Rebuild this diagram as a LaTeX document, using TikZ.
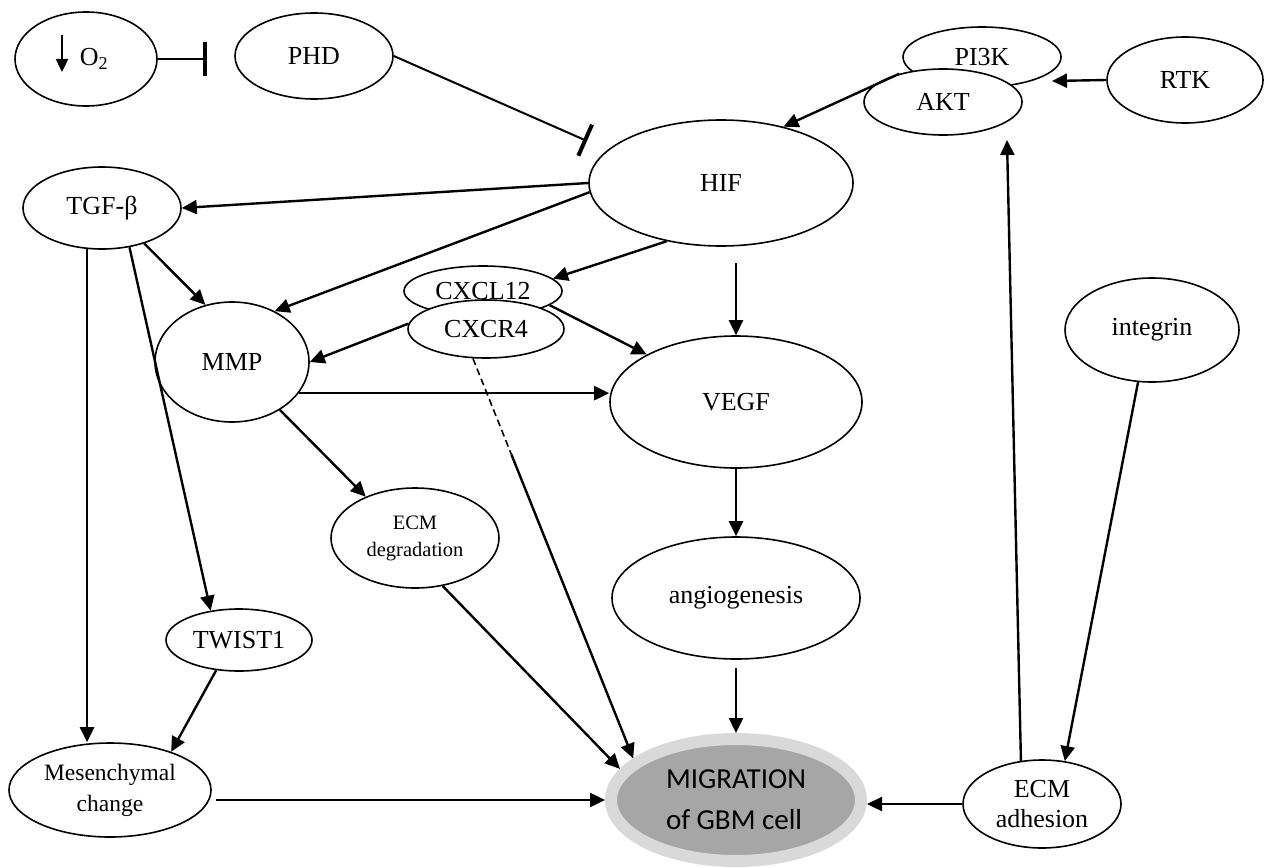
\documentclass[tikz,border=0pt]{standalone}
\usepackage{fontspec}
\setmainfont{Liberation Serif}
\newfontfamily\calibri{Carlito}
\usetikzlibrary{arrows.meta, calc, shapes.geometric}
\definecolor{migrim}{HTML}{D9D9D9}
\definecolor{migcore}{HTML}{A6A6A6}

\begin{document}
\begin{tikzpicture}[x=1pt, y=-1pt, >={Triangle[length=15pt,width=14pt]},
    bubble/.style={draw, ellipse, line width=1.6pt, inner sep=0pt, align=center, font=\fontsize{26}{30}\selectfont},
    act/.style={->, line width=2.4pt},
    inh/.style={-{Bar[width=34pt,line width=4pt]}, line width=2pt}]
  \useasboundingbox (0,0) rectangle (1265,867);

  \node[bubble, minimum width=142pt, minimum height=94pt] (o2) at (86,59) {\hspace*{16pt}O\textsubscript{2}};
  \node[bubble, minimum width=158pt, minimum height=86pt] (phd) at (314,56) {PHD};
  \node[bubble, minimum width=158pt, minimum height=60pt] (pi3k) at (982,57) {PI3K};
  \node[bubble, minimum width=158pt, minimum height=66pt, fill=white] (akt) at (943,102) {AKT};
  \node[bubble, minimum width=156pt, minimum height=86pt] (rtk) at (1185,80) {RTK};
  \node[bubble, minimum width=264pt, minimum height=126pt] (hif) at (721,183) {HIF};
  \node[bubble, minimum width=158pt, minimum height=82pt] (tgf) at (102,208) {TGF-β};
  \node[bubble, minimum width=158pt, minimum height=50pt] (cxcl) at (483,291) {CXCL12};
  \node[bubble, minimum width=156pt, minimum height=58pt, fill=white] (cxcr) at (486,329) {CXCR4};
  \node[bubble, minimum width=154pt, minimum height=120pt] (mmp) at (232,362) {MMP};
  \node[bubble, minimum width=168pt, minimum height=100pt, font=\fontsize{20.5}{27}\selectfont] (ecmdeg) at (415,538) {ECM\\degradation};
  \node[bubble, minimum width=252pt, minimum height=132pt] (vegf) at (736,402) {VEGF};
  \node[bubble, minimum width=248pt, minimum height=122pt] (angio) at (736,598) {angiogenesis};
  \node[bubble, minimum width=174pt, minimum height=104pt] (integ) at (1152,330) {integrin};
  \node[bubble, minimum width=146pt, minimum height=62pt] (twist) at (239,640) {TWIST1};
  \node[bubble, minimum width=202pt, minimum height=94pt, font=\fontsize{23.5}{31}\selectfont] (mes) at (110,790) {Mesenchymal\\change};
  \node[bubble, minimum width=158pt, minimum height=88pt] (ecmadh) at (1042,804) {ECM\\adhesion};
  \node[ellipse, draw=migrim, fill=migcore, line width=12pt, inner sep=0pt, minimum width=250pt, minimum height=122pt,
        align=left, font=\calibri\fontsize{29}{41}\selectfont] (mig) at (736,800) {MIGRATION\\of GBM cell};

  \coordinate (o2cut) at (207,59);
  \coordinate (hifcut) at (587,141);
  \coordinate (pikin) at (1052,81);
  \coordinate (aktin) at (1007,140);
  \coordinate (cxsplit) at ($(cxcr.246)!0.24!(mig.158)$);

  \draw[-{Triangle[length=13pt,width=12pt]}, line width=2.4pt] ([shift={(-24,-24)}]o2.center) -- ([shift={(-24,13)}]o2.center);

  \draw[inh] (o2.east) -- (o2cut);
  \draw[inh] (phd.east) -- (hifcut);
  \draw[act] (rtk.west) -- (pikin);
  \draw[act] (akt.147) -- (hif.42);
  \draw[act] (hif.west) -- (tgf.east);
  \draw[act] (hif.184) -- (mmp.50);
  \draw[act] (hif.227) -- (cxcl.10);
  \draw[act, shorten <=16pt] (hif.south -| vegf.north) -- (vegf.north);
  \draw[act] (cxcl.-12) -- (vegf.152);
  \draw[act] (cxcr.176) -- (mmp.east);
  \draw[act] (tgf.-40) -- (mmp.115);
  \draw[act] (mmp.-25) -- (mmp.-25 -| vegf.west);
  \draw[act] (mmp.-45) -- (ecmdeg.140);
  \draw[act] (ecmdeg.-60) -- (mig.165);
  \draw[dash pattern=on 7pt off 4pt, line width=1.6pt] (cxcr.246) -- (cxsplit);
  \draw[act] (cxsplit) -- (mig.158);
  \draw[act] (vegf.south) -- (angio.north);
  \draw[act, shorten <=8pt] (angio.south) -- (mig.north);
  \draw[act] (tgf.250) -- (tgf.250 |- mes.north);
  \draw[act] (tgf.-55) -- (twist.134);
  \draw[act] (twist.233) -- (mes.32);
  \draw[act, shorten <=4pt] (mes.east |- mig.west) -- (mig.west);
  \draw[act] (ecmadh.west) -- (ecmadh.west -| mig.east);
  \draw[act] (ecmadh.116) -- (aktin);
  \draw[act] (integ.255) -- (ecmadh.62);
\end{tikzpicture}
\end{document}
